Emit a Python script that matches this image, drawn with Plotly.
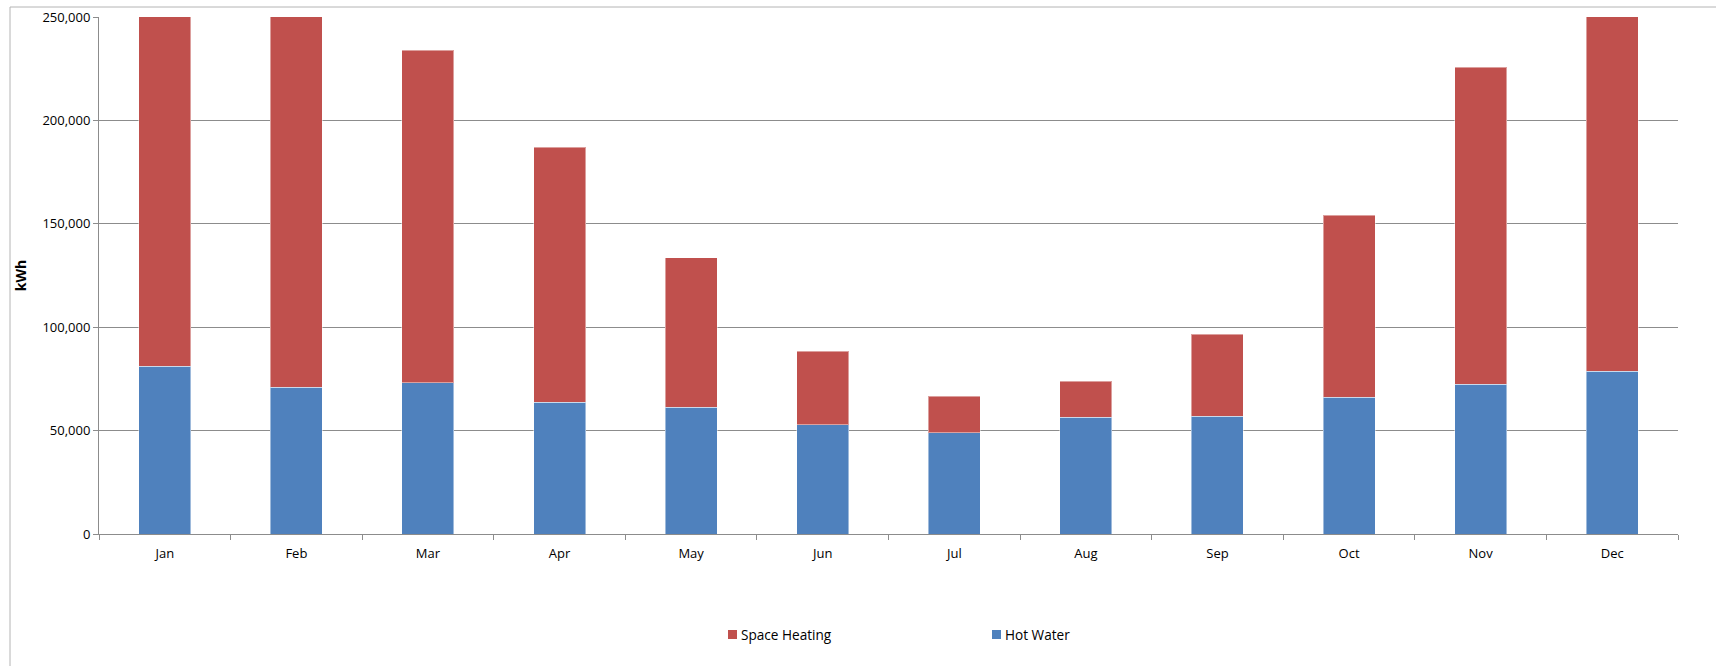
import plotly.graph_objects as go

# Monthly heating energy demand (kWh)
months = ["Jan", "Feb", "Mar", "Apr", "May", "Jun",
          "Jul", "Aug", "Sep", "Oct", "Nov", "Dec"]
hot_water = [81200, 70900, 73200, 63800, 61300, 52850,
             49000, 56400, 56900, 66250, 72500, 78700]
space_heating = [205000, 192000, 160700, 123300, 72200, 35500,
                 17600, 17400, 39800, 87850, 153200, 196000]
y_ticks = [0, 50000, 100000, 150000, 200000, 250000]
y_tick_text = ["0", "50,000", "100,000", "150,000", "200,000", "250,000"]

BLUE = "#4F81BD"
RED = "#C0504D"
GRID = "#8c8c8c"
FONT = "Open Sans"

W, H = 1716, 666
L, R, T, B = 99, 38, 17, 132
pw, ph = W - L - R, H - T - B


def px_x(x):
    return (x - L) / pw


def px_y(y):
    return (T + ph - y) / ph


fig = go.Figure()
fig.add_trace(go.Bar(
    x=months, y=hot_water, name="Hot Water",
    marker=dict(color=BLUE, line=dict(color="rgba(255,255,255,0.45)", width=1)),
))
fig.add_trace(go.Bar(
    x=months, y=space_heating, name="Space Heating",
    marker=dict(color=RED, line=dict(color="rgba(255,255,255,0.45)", width=1)),
))

# outer chart frame
fig.add_shape(
    type="rect", xref="paper", yref="paper",
    x0=px_x(10), x1=px_x(W + 5), y0=px_y(H + 5), y1=px_y(7),
    line=dict(color="#b4b4b4", width=1), fillcolor="rgba(0,0,0,0)",
    layer="below",
)

# legend: colour key squares with labels
legend_items = [("Space Heating", RED, 728), ("Hot Water", BLUE, 992)]
for label, color, x0 in legend_items:
    fig.add_shape(
        type="rect", xref="paper", yref="paper",
        x0=px_x(x0), x1=px_x(x0 + 9), y0=px_y(639), y1=px_y(630),
        line=dict(width=0), fillcolor=color,
    )
    fig.add_annotation(
        xref="paper", yref="paper", x=px_x(x0 + 11), y=px_y(634.5),
        xanchor="left", yanchor="middle", showarrow=False,
        text=label, font=dict(family=FONT, size=13.6, color="#000000"),
    )

fig.update_layout(
    width=W, height=H,
    margin=dict(l=L, r=R, t=T, b=B, autoexpand=False),
    barmode="stack",
    bargap=0.605,
    plot_bgcolor="white", paper_bgcolor="white",
    font=dict(family=FONT, size=13, color="#000000"),
    showlegend=False,
    xaxis=dict(
        type="category",
        showline=True, linecolor=GRID, linewidth=1,
        ticks="outside", ticklen=5, tickcolor=GRID, tickson="boundaries",
        showgrid=False, ticklabelstandoff=7,
        tickfont=dict(family=FONT, size=13),
    ),
    yaxis=dict(
        range=[0, 250000],
        tickvals=y_ticks, ticktext=y_tick_text,
        showline=True, linecolor=GRID, linewidth=1,
        ticks="outside", ticklen=5, tickcolor=GRID,
        showgrid=True, gridcolor=GRID, gridwidth=1,
        zeroline=False,
        tickfont=dict(family=FONT, size=13),
        title=dict(text="<b>kWh</b>", font=dict(family=FONT, size=14), standoff=12),
    ),
)

fig.write_html("out.html")
